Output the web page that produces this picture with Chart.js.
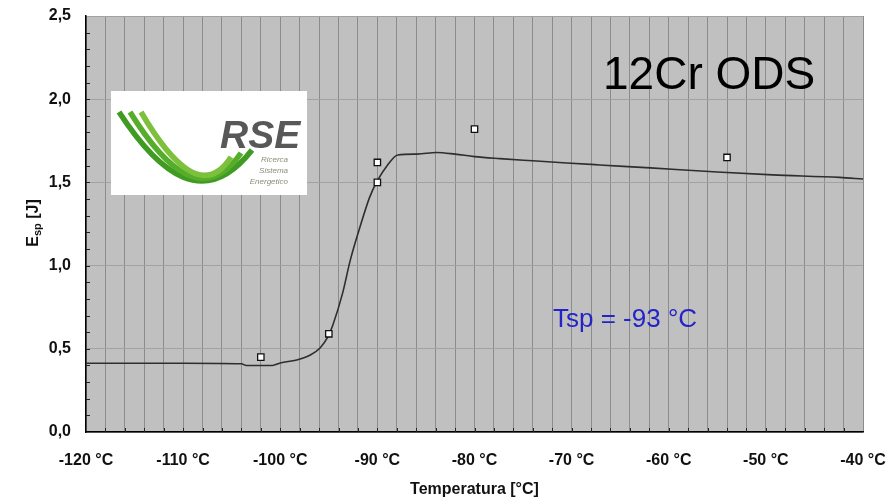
<!DOCTYPE html>
<html>
<head>
<meta charset="utf-8">
<title>12Cr ODS - Esp</title>
<script src="https://cdn.jsdelivr.net/npm/chart.js@4.4.1/dist/chart.umd.min.js"></script>
<style>
  html, body { margin: 0; padding: 0; background: #fff; }
  #wrap { width: 888px; height: 500px; }
</style>
</head>
<body>
<div id="wrap"><canvas id="espChart" width="888" height="500"></canvas></div>
<script>
// fitted transition curve (temperature in °C, energy in J)
const curveTemps = [-120, -110, -104, -103.5, -100.8, -100, -98.3, -96.9, -95.9, -95.1, -94.6, -93.6,
    -92.8, -91.8, -90.8, -90, -89, -87.9, -85.9, -83.9, -82, -80, -77.4, -74, -70.5,
    -67.1, -61.9, -55, -49.3, -42.4, -40];
const curveEnergy = [0.413, 0.413, 0.41, 0.40, 0.40, 0.415, 0.433, 0.463, 0.505, 0.571, 0.64, 0.83,
    1.03, 1.23, 1.41, 1.51, 1.60, 1.665, 1.67, 1.68, 1.67, 1.655, 1.643, 1.63, 1.617,
    1.605, 1.587, 1.5625, 1.545, 1.53, 1.52];

// measured specimens
const testTemps = [-102, -95, -90, -90, -80, -54];
const testEnergy = [0.45, 0.59, 1.62, 1.50, 1.82, 1.65];

// axes
const xMin = -120, xMax = -40, xStep = 2, xLabelEvery = 10;
const yMin = 0, yMax = 2.5, yStep = 0.5, yMinorStep = 0.1;

const materialName = '12Cr ODS';
const tsp = -93;

const curvePoints = curveTemps.map((t, i) => ({ x: t, y: curveEnergy[i] }));
const testPoints = testTemps.map((t, i) => ({ x: t, y: testEnergy[i] }));

const axisFont = { family: 'Liberation Sans', size: 16, weight: 'bold' };

// grey plot background
const plotBackground = {
    id: 'plotBackground',
    beforeDraw(chart) {
        const { ctx, chartArea: a } = chart;
        ctx.save();
        ctx.fillStyle = '#fff';
        ctx.fillRect(0, 0, chart.width, chart.height);
        ctx.fillStyle = '#c0c0c0';
        ctx.fillRect(a.left, a.top, a.right - a.left, a.bottom - a.top);
        ctx.restore();
    }
};

// small inner tick marks on both axes
const innerTicks = {
    id: 'innerTicks',
    beforeDatasetsDraw(chart) {
        const { ctx, chartArea: a, scales } = chart;
        ctx.save();
        ctx.strokeStyle = '#222';
        ctx.lineWidth = 1;
        ctx.beginPath();
        for (let v = yMin + yMinorStep; v < yMax - 1e-6; v += yMinorStep) {
            const py = Math.round(scales.y.getPixelForValue(v)) + 0.5;
            ctx.moveTo(a.left, py);
            ctx.lineTo(a.left + 4, py);
        }
        for (let v = xMin + xStep; v < xMax; v += xStep) {
            const px = Math.round(scales.x.getPixelForValue(v)) + 0.5;
            ctx.moveTo(px, a.bottom);
            ctx.lineTo(px, a.bottom - 4);
        }
        ctx.stroke();
        ctx.restore();
    }
};

// logo, captions and axis titles
const overlay = {
    id: 'overlay',
    afterDraw(chart) {
        const { ctx, chartArea: a } = chart;
        ctx.save();

        // RSE logo box
        ctx.fillStyle = '#fff';
        ctx.fillRect(111, 91, 196, 104);
        const bands = [
            { s: [119, 112], c1: [160, 175], c2: [205, 210], e: [252, 150], col: '#3f9b22' },
            { s: [130, 112], c1: [166, 170], c2: [205, 205], e: [241, 153], col: '#55ad2a' },
            { s: [141, 112], c1: [172, 165], c2: [205, 198], e: [231, 157], col: '#7dc03c' }
        ];
        ctx.lineCap = 'butt';
        bands.forEach(b => {
            ctx.strokeStyle = b.col;
            ctx.lineWidth = 5.5;
            ctx.beginPath();
            ctx.moveTo(b.s[0], b.s[1]);
            ctx.bezierCurveTo(b.c1[0], b.c1[1], b.c2[0], b.c2[1], b.e[0], b.e[1]);
            ctx.stroke();
        });
        ctx.fillStyle = '#585858';
        ctx.font = 'italic bold 39px "Liberation Sans"';
        ctx.textAlign = 'left';
        ctx.textBaseline = 'alphabetic';
        ctx.fillText('RSE', 220, 148);
        ctx.fillStyle = '#8c8c7a';
        ctx.font = 'italic 8px "Liberation Sans"';
        ctx.textAlign = 'right';
        ctx.fillText('Ricerca', 288, 162);
        ctx.fillText('Sistema', 288, 173);
        ctx.fillText('Energetico', 288, 184);

        // material name
        ctx.fillStyle = '#000';
        ctx.font = '46px "Liberation Sans"';
        ctx.textAlign = 'left';
        ctx.fillText(materialName, 603, 89);

        // transition temperature
        ctx.fillStyle = '#2323c8';
        ctx.font = '26px "Liberation Sans"';
        ctx.fillText('Tsp = ' + tsp + ' °C', 553, 327);

        // x axis title
        ctx.fillStyle = '#111';
        ctx.font = 'bold 16px "Liberation Sans"';
        ctx.textAlign = 'center';
        ctx.textBaseline = 'middle';
        ctx.fillText('Temperatura [°C]', (a.left + a.right) / 2, 490);

        // y axis title with subscript
        ctx.translate(32, 223);
        ctx.rotate(-Math.PI / 2);
        ctx.textAlign = 'left';
        ctx.textBaseline = 'alphabetic';
        const big = 'bold 16px "Liberation Sans"', small = 'bold 11px "Liberation Sans"';
        ctx.font = big;
        const wE = ctx.measureText('E').width;
        const wJ = ctx.measureText(' [J]').width;
        ctx.font = small;
        const wSp = ctx.measureText('sp').width;
        let x0 = -(wE + wSp + wJ) / 2;
        const base = 6;
        ctx.font = big;
        ctx.fillText('E', x0, base);
        ctx.font = small;
        ctx.fillText('sp', x0 + wE, base + 3);
        ctx.font = big;
        ctx.fillText(' [J]', x0 + wE + wSp, base);

        ctx.restore();
    }
};

new Chart(document.getElementById('espChart'), {
    type: 'scatter',
    data: {
        datasets: [{
            label: 'curve',
            data: curvePoints,
            showLine: true,
            borderColor: '#2e2e2e',
            borderWidth: 1.6,
            pointRadius: 0,
            cubicInterpolationMode: 'monotone',
            order: 2
        }, {
            label: 'specimens',
            data: testPoints,
            pointStyle: 'rect',
            pointRadius: 4.5,
            backgroundColor: '#fff',
            borderColor: '#111',
            borderWidth: 1.3,
            order: 1
        }]
    },
    options: {
        responsive: false,
        animation: false,
        layout: { padding: { top: 16, right: 25, left: 0, bottom: 0 } },
        plugins: {
            legend: { display: false },
            tooltip: { enabled: false }
        },
        scales: {
            x: {
                type: 'linear',
                min: xMin,
                max: xMax,
                afterFit: s => { s.height = 68; s.paddingLeft = 0; s.paddingRight = 0; },
                border: { color: '#000', width: 1.5 },
                grid: { color: '#8c8c8c', lineWidth: 1, drawTicks: false },
                ticks: {
                    stepSize: xStep,
                    autoSkip: false,
                    maxRotation: 0,
                    padding: 19,
                    color: '#111',
                    font: axisFont,
                    callback: v => (v % xLabelEvery === 0 ? v + ' °C' : '')
                }
            },
            y: {
                min: yMin,
                max: yMax,
                afterFit: s => { s.width = 86; s.paddingTop = 0; s.paddingBottom = 0; },
                border: { color: '#000', width: 1.5 },
                grid: { color: '#a2a2a2', lineWidth: 1, drawTicks: false },
                ticks: {
                    stepSize: yStep,
                    padding: 15,
                    color: '#111',
                    font: axisFont,
                    callback: v => v.toFixed(1).replace('.', ',')
                }
            }
        }
    },
    plugins: [plotBackground, innerTicks, overlay]
});
</script>
</body>
</html>
